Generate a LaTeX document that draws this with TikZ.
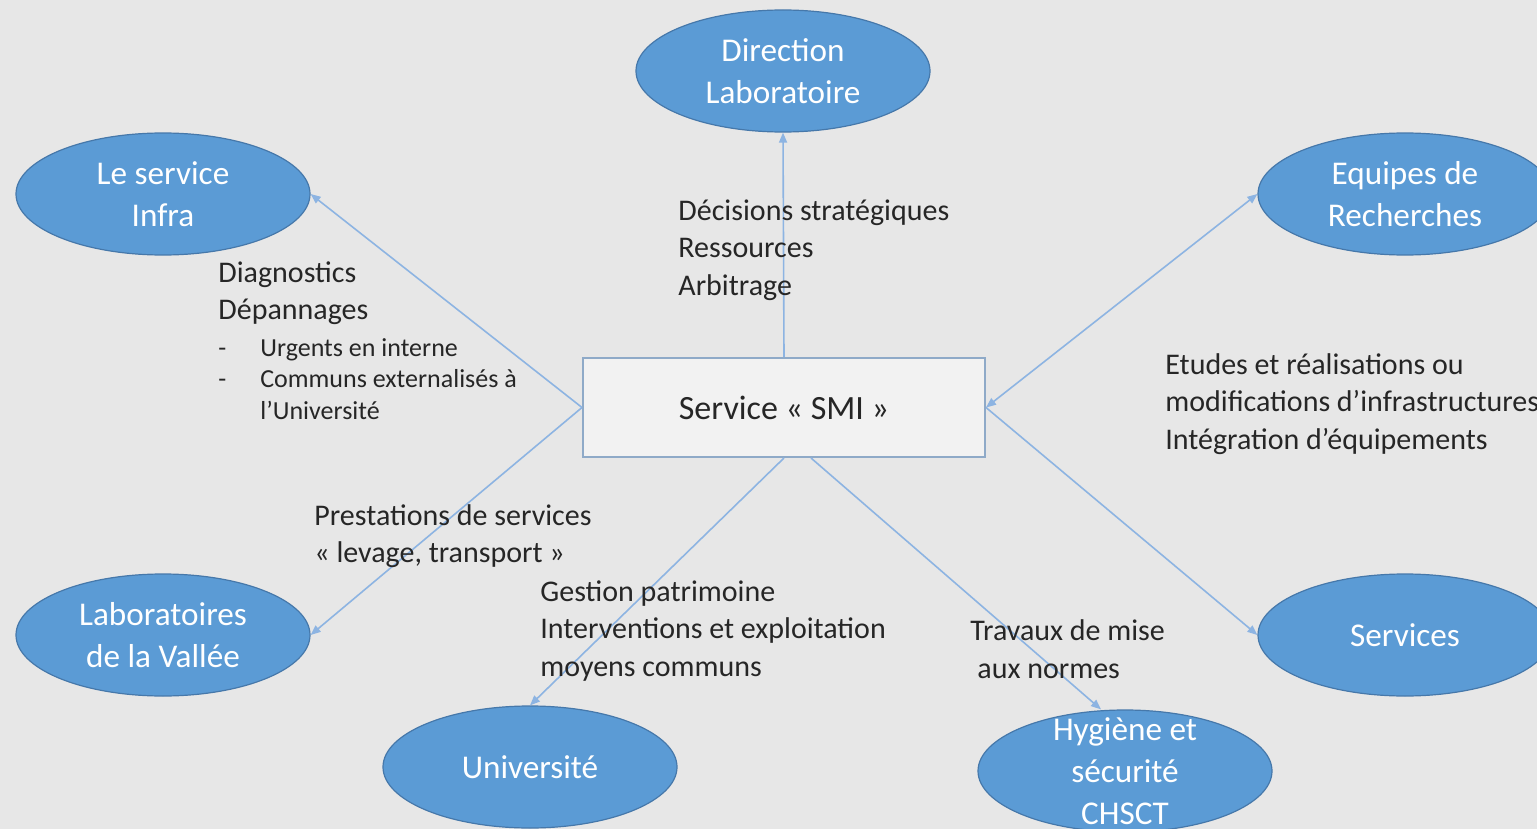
\documentclass[tikz,border=0pt]{standalone}
\usepackage{fontspec}
\setmainfont{Carlito}
\usetikzlibrary{arrows.meta,shapes.geometric}
\definecolor{fond}{RGB}{231,231,231}
\definecolor{bleu}{RGB}{91,155,213}
\definecolor{bleufonce}{RGB}{70,120,170}
\definecolor{fleche}{RGB}{141,180,226}
\definecolor{cadre}{RGB}{143,170,200}
\definecolor{boite}{RGB}{242,242,242}
\definecolor{texte}{RGB}{38,38,38}

\begin{document}
\begin{tikzpicture}[x=0.5pt,y=-0.5pt,
	pointe/.tip={Triangle[length=5pt,width=4pt]},
	acteur/.style={ellipse, fill=bleu, draw=bleufonce, line width=0.6pt, minimum width=147pt, minimum height=61pt, inner sep=0pt, text=white, align=center, font=\fontsize{16.6}{21}\selectfont},
	centre/.style={draw=cadre, fill=boite, line width=1pt, minimum width=201pt, minimum height=49.5pt, text=texte, font=\fontsize{17}{21}\selectfont},
	lien/.style={draw=fleche, line width=0.8pt, -pointe},
	legende/.style={anchor=west, align=left, inner sep=0pt, text=texte, font=\fontsize{15}{18.75}\selectfont}]
	\useasboundingbox (0,0) rectangle (1537,829);
	\fill[fond] (0,0) rectangle (1537,829);
	% les acteurs
	\node[acteur] (dir) at (783,71) {Direction\\Laboratoire};
	\node[acteur] (infra) at (163,194) {Le service\\Infra};
	\node[acteur] (equipes) at (1405,194) {Equipes de\\Recherches};
	\node[acteur] (vallee) at (163,635) {Laboratoires\\de la Vallée};
	\node[acteur] (services) at (1405,635) {Services};
	\node[acteur] (univ) at (530,767) {Université};
	\node[acteur, inner ysep=-15pt] (hyg) at (1125,771) {Hygiène et\\sécurité\\CHSCT};
	\node[centre] (smi) at (784,407.5) {Service « SMI »};
	% les liens
	\draw[lien] (smi.north) -- (dir.south);
	\draw[lien] (smi.west) -- (infra.east);
	\draw[lien] (smi.west) -- (vallee.east);
	\draw[lien, pointe-pointe] (smi.east) -- (equipes.west);
	\draw[lien] (smi.east) -- (services.west);
	\draw[lien] (smi.south) -- (univ.north);
	\draw[lien] ([xshift=13.5pt]smi.south) -- ([xshift=-12pt]hyg.north);
	% les textes
	\node[legende] (decisions) at (678,250) {Décisions stratégiques\\Ressources\\Arbitrage};
	\node[legende] (diag) at (218,293) {Diagnostics\\Dépannages};
	\node[legende, font=\fontsize{13}{15.75}\selectfont] (urgents) at (218,379) {\makebox[21pt][l]{-}Urgents en interne\\\makebox[21pt][l]{-}Communs externalisés à\\\hspace*{21pt}l’Université};
	\node[legende] (presta) at (314,536) {Prestations de services\\« levage, transport »};
	\node[legende] (gestion) at (540,631) {Gestion patrimoine\\Interventions et exploitation\\moyens communs};
	\node[legende] (travaux) at (970,649) {Travaux de mise\\\hspace*{3.5pt}aux normes};
	\node[legende] (etudes) at (1165,404) {Etudes et réalisations ou\\modifications d’infrastructures\\Intégration d’équipements};
\end{tikzpicture}
\end{document}
